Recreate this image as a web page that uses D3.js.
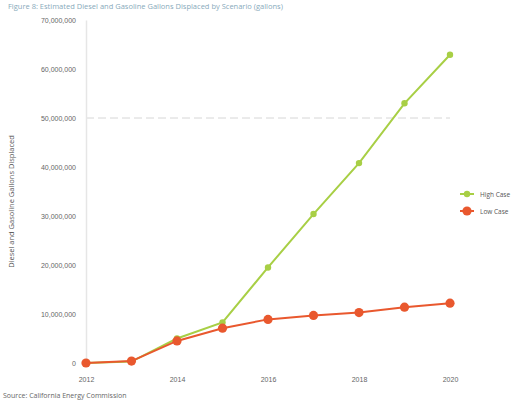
<!DOCTYPE html>
<html>
<head>
<meta charset="utf-8">
<script src="https://cdn.jsdelivr.net/npm/d3@7"></script>
<style>
  html, body { margin: 0; padding: 0; background: #fff; }
  svg { display: block; font-family: "Open Sans", "DejaVu Sans", sans-serif; }
</style>
</head>
<body>
<svg id="chart" width="521" height="400"></svg>
<script>
// Projected gallons displaced per year, two scenarios
const years = [2012, 2013, 2014, 2015, 2016, 2017, 2018, 2019, 2020];
const highCase = [0, 300000, 5000000, 8300000, 19500000, 30400000, 40800000, 53000000, 62900000];
const lowCase = [0, 400000, 4500000, 7100000, 8900000, 9700000, 10300000, 11400000, 12200000];
const yTicks = [0, 10000000, 20000000, 30000000, 40000000, 50000000, 60000000, 70000000];
const xTicks = [2012, 2014, 2016, 2018, 2020];
const seriesNames = ["High Case", "Low Case"];

const svg = d3.select("#chart");
const W = 521, H = 400;
const m = { left: 86, right: 71, top: 20, bottom: 37 };

const x = d3.scaleLinear().domain([2012, 2020]).range([m.left, W - m.right]);
const y = d3.scaleLinear().domain([0, 70000000]).range([H - m.bottom, m.top]);

// Title line across the top edge
svg.append("text")
  .attr("x", 8).attr("y", 9)
  .attr("font-size", 7.5).attr("fill", "#8ab")
  .text("Figure 8: Estimated Diesel and Gasoline Gallons Displaced by Scenario (gallons)");

// Single dotted reference line at 50M
svg.append("line")
  .attr("x1", m.left).attr("x2", W - m.right)
  .attr("y1", y(50000000)).attr("y2", y(50000000))
  .attr("stroke", "#d6d6d6").attr("stroke-width", 1)
  .attr("stroke-dasharray", "8,4");

// Y axis
const yAxis = d3.axisLeft(y).tickValues(yTicks)
  .tickFormat(d => d === 0 ? "0" : d3.format(",")(d))
  .tickSize(0).tickPadding(10);
const gy = svg.append("g").attr("transform", `translate(${m.left},0)`).call(yAxis);
gy.select(".domain").attr("stroke", "#e6e6e6").attr("stroke-width", 1.5);
gy.selectAll("text").attr("font-size", 7).attr("fill", "#666");

// X axis (labels only)
const xAxis = d3.axisBottom(x).tickValues(xTicks).tickFormat(d3.format("d"))
  .tickSize(0).tickPadding(14);
const gx = svg.append("g").attr("transform", `translate(0,${H - m.bottom})`).call(xAxis);
gx.select(".domain").remove();
gx.selectAll("text").attr("font-size", 7).attr("fill", "#666");

// Y axis title
svg.append("text")
  .attr("transform", `translate(14,${(m.top + H - m.bottom) / 2 + 10}) rotate(-90)`)
  .attr("text-anchor", "middle")
  .attr("font-size", 7.5).attr("fill", "#555")
  .text("Diesel and Gasoline Gallons Displaced");

// Source note
svg.append("text")
  .attr("x", 3).attr("y", 398)
  .attr("font-size", 7).attr("fill", "#666")
  .text("Source: California Energy Commission");

const series = [
  { name: seriesNames[0], values: highCase, color: "#a8cf45", r: 3.2 },
  { name: seriesNames[1], values: lowCase, color: "#e9582e", r: 4.6 }
];

const line = d3.line().x((d, i) => x(years[i])).y(d => y(d));

// High case first, low case drawn over it where they overlap
series.forEach(s => {
  svg.append("path")
    .datum(s.values)
    .attr("fill", "none")
    .attr("stroke", s.color)
    .attr("stroke-width", 2)
    .attr("d", line);
  svg.append("g").selectAll("circle")
    .data(s.values)
    .join("circle")
    .attr("cx", (d, i) => x(years[i]))
    .attr("cy", d => y(d))
    .attr("r", s.r)
    .attr("fill", s.color);
});

// Legend
const lg = svg.append("g").attr("transform", "translate(467,194)");
series.forEach((s, i) => {
  const row = lg.append("g").attr("transform", `translate(0,${i * 17})`);
  row.append("line").attr("x1", -7).attr("x2", 7)
    .attr("stroke", s.color).attr("stroke-width", 2);
  row.append("circle").attr("r", s.r).attr("fill", s.color);
  row.append("text").attr("x", 13).attr("y", 2.5)
    .attr("font-size", 6.5).attr("fill", "#555").text(s.name);
});
</script>
</body>
</html>
